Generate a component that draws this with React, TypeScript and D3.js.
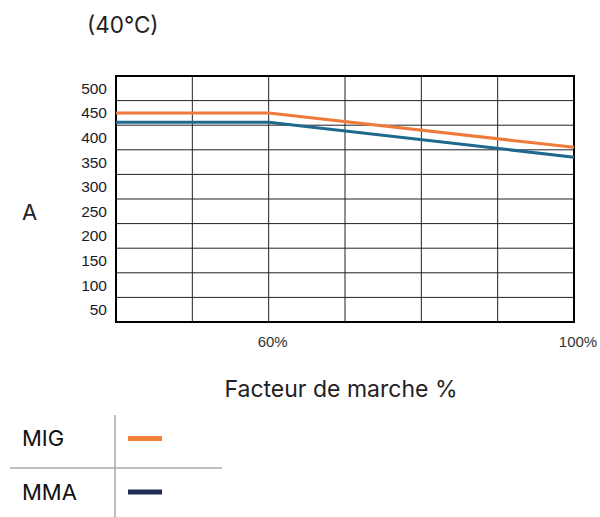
import React from "react";
import * as d3 from "d3";

const dutyCycles = [40, 60, 100];
const migValues = [450, 450, 380];
const mmaValues = [431, 431, 360];
const yTickLabels = [50, 100, 150, 200, 250, 300, 350, 400, 450, 500];
const xTickLabels = [60, 100];
const legendItems = ["MIG", "MMA"];

const W = 600;
const H = 517;

export default function App() {
  const x = d3.scaleLinear().domain([40, 100]).range([116, 574]);
  const y = d3.scaleLinear().domain([25, 525]).range([322, 76]);
  const xGrid = d3.range(40, 101, 10);
  const yGrid = d3.range(25, 526, 50);
  const line = d3
    .line<number>()
    .x((_, i) => x(dutyCycles[i]))
    .y((d) => y(d));

  const sans = "Inter, 'Noto Sans', sans-serif";
  const arial = "'Liberation Sans', Arial, sans-serif";
  const colors = ["#F07A3A", "#1E6A8E"];
  const legendColors = ["#F2813A", "#1F2A55"];

  return (
    <svg
      width={W}
      height={H}
      style={{ position: "absolute", left: 0, top: 0, background: "#fff" }}
    >
      <text x={87} y={33} fontFamily={sans} fontSize={22.5} fill="#222">
        (40°C)
      </text>
      {xGrid.map((v) => (
        <line
          key={"gx" + v}
          x1={x(v)}
          x2={x(v)}
          y1={y(525)}
          y2={y(25)}
          stroke="#222"
          strokeWidth={1}
        />
      ))}
      {yGrid.map((v) => (
        <line
          key={"gy" + v}
          x1={x(40)}
          x2={x(100)}
          y1={y(v)}
          y2={y(v)}
          stroke="#222"
          strokeWidth={1}
        />
      ))}
      <rect
        x={x(40)}
        y={y(525)}
        width={x(100) - x(40)}
        height={y(25) - y(525)}
        fill="none"
        stroke="#000"
        strokeWidth={2}
      />
      <path d={line(migValues) || ""} fill="none" stroke={colors[0]} strokeWidth={3} />
      <path d={line(mmaValues) || ""} fill="none" stroke={colors[1]} strokeWidth={3} />
      {yTickLabels.map((v) => (
        <text
          key={"yl" + v}
          x={107}
          y={y(v)}
          dy="0.35em"
          textAnchor="end"
          fontFamily={arial}
          fontSize={15.5}
          fill="#1a1a2a"
        >
          {v}
        </text>
      ))}
      {xTickLabels.map((v) => (
        <text
          key={"xl" + v}
          x={x(v) + 4}
          y={347}
          textAnchor="middle"
          fontFamily={arial}
          fontSize={15}
          fill="#333"
        >
          {v}%
        </text>
      ))}
      <text x={22} y={220} fontFamily={sans} fontSize={22} fill="#222">
        A
      </text>
      <text x={341} y={397} textAnchor="middle" fontFamily={sans} fontSize={23} fill="#222">
        Facteur de marche %
      </text>
      <line x1={115} x2={115} y1={415} y2={517} stroke="#aaa" strokeWidth={1.5} />
      <line x1={10} x2={222} y1={468} y2={468} stroke="#aaa" strokeWidth={1.5} />
      {legendItems.map((name, i) => (
        <g key={name}>
          <text x={22} y={446 + i * 54} fontFamily={sans} fontSize={22} fill="#111">
            {name}
          </text>
          <line
            x1={128}
            x2={162}
            y1={438.5 + i * 53.5}
            y2={438.5 + i * 53.5}
            stroke={legendColors[i]}
            strokeWidth={5}
          />
        </g>
      ))}
    </svg>
  );
}
